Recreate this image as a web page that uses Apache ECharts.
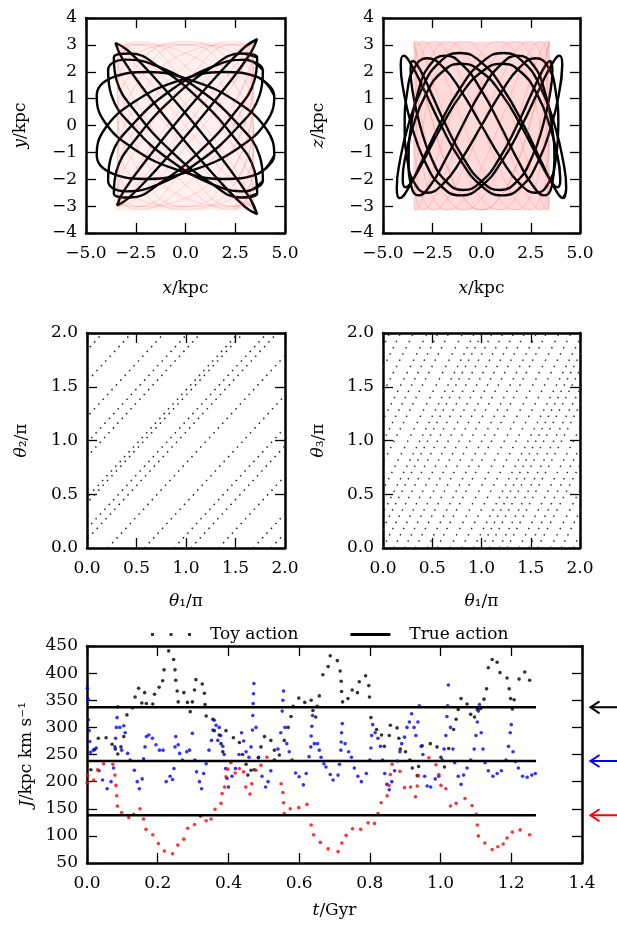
<!DOCTYPE html>
<html><head><meta charset="utf-8">
<script src="https://cdn.jsdelivr.net/npm/echarts@6/dist/echarts.min.js"></script>
<style>html,body{margin:0;padding:0;background:#fff}#c{width:617px;height:928px}</style>
</head><body><div id="c"></div><script>
// ---------- Panel 1 (x-y) orbit loops, kpc ----------
const loopE1 = [[3.6,3.22],[3.01,2.94],[1.64,1.9],[-0.15,0.39],[-1.88,-1.2],[-3.09,-2.42],[-3.44,-2.97],[-2.85,-2.69],[-1.48,-1.65],[0.31,-0.14],[2.04,1.45],[3.25,2.67]];
const loopE2 = [[3.6,-3.3],[3.26,-2.73],[2.05,-1.45],[0.31,0.18],[-1.51,1.74],[-2.91,2.8],[-3.52,3.07],[-3.18,2.5],[-1.97,1.22],[-0.23,-0.41],[1.59,-1.97],[2.99,-3.03]];
const loopE3 = [[3.89,2.06],[3.01,2.45],[1.33,2.18],[-0.7,1.33],[-2.55,0.12],[-3.72,-1.12],[-3.89,-2.06],[-3.01,-2.45],[-1.33,-2.18],[0.7,-1.33],[2.55,-0.12],[3.72,1.12]];
const loopE4 = [[3.89,-2.06],[3.01,-2.45],[1.33,-2.18],[-0.7,-1.33],[-2.55,-0.12],[-3.72,1.12],[-3.89,2.06],[-3.01,2.45],[-1.33,2.18],[0.7,1.33],[2.55,0.12],[3.72,-1.12]];
const loopE5 = [[4.46,1.11],[3.66,1.79],[1.88,1.99],[-0.41,1.65],[-2.59,0.87],[-4.07,-0.14],[-4.46,-1.11],[-3.66,-1.79],[-1.88,-1.99],[0.41,-1.65],[2.59,-0.87],[4.07,0.14]];
const loopE6 = [[4.46,-1.11],[3.66,-1.79],[1.88,-1.99],[-0.41,-1.65],[-2.59,-0.87],[-4.07,0.14],[-4.46,1.11],[-3.66,1.79],[-1.88,1.99],[0.41,1.65],[2.59,0.87],[4.07,-0.14]];
const loopE7 = [[3.6,2.53],[2.78,2.68],[1.21,2.11],[-0.69,0.98],[-2.4,-0.41],[-3.47,-1.7],[-3.6,-2.53],[-2.78,-2.68],[-1.21,-2.11],[0.69,-0.98],[2.4,0.41],[3.47,1.7]];
const loopE8 = [[3.6,-2.53],[2.78,-2.68],[1.21,-2.11],[-0.69,-0.98],[-2.4,0.41],[-3.47,1.7],[-3.6,2.53],[-2.78,2.68],[-1.21,2.11],[0.69,0.98],[2.4,-0.41],[3.47,-1.7]];
// toy (pink) orbit, panel 1
const pinkX1 = [3.43,2.43,0,-2.43,-3.43,-2.43,0,2.43];
const pinkY1 = [
 [3.01,1.56,-0.81,-2.70,-3.01,-1.56,0.81,2.70],
 [2.70,0.81,-1.56,-3.01,-2.70,-0.81,1.56,3.01],
 [2.21,0,-2.21,-3.12,-2.21,0,2.21,3.12],
 [1.56,-0.81,-2.70,-3.01,-1.56,0.81,2.70,3.01],
 [0.81,-1.56,-3.01,-2.70,-0.81,1.56,3.01,2.70],
 [0,-2.21,-3.12,-2.21,0,2.21,3.12,2.21],
 [-0.81,-2.70,-3.01,-1.56,0.81,2.70,3.01,1.56],
 [-1.56,-3.01,-2.70,-0.81,1.56,3.01,2.70,0.81],
 [-2.21,-3.12,-2.21,0,2.21,3.12,2.21,0],
 [-2.70,-3.01,-1.56,0.81,2.70,3.01,1.56,-0.81],
 [-3.01,-2.70,-0.81,1.56,3.01,2.70,0.81,-1.56]
];
const pinkBox1 = [[-3.43,-3.15],[3.45,3.1]];

// ---------- Panel 2 (x-z) orbit curves ----------
const curveK1x = [4.1,3.96,3.55,2.9,2.05,1.06,0,-1.06,-2.05,-2.9,-3.55,-3.96,-4.1,-3.96,-3.55,-2.9,-2.05,-1.06,0,1.06,2.05,2.9,3.55,3.96];
const curveK1z = [2.25,1.3,0,-1.3,-2.25,-2.6,-2.25,-1.3,0,1.3,2.25,2.6,2.25,1.3,0,-1.3,-2.25,-2.6,-2.25,-1.3,0,1.3,2.25,2.6];
const curveK2x = [3.9,3.77,3.38,2.76,1.95,1.01,0,-1.01,-1.95,-2.76,-3.38,-3.77,-3.9,-3.77,-3.38,-2.76,-1.95,-1.01,0,1.01,1.95,2.76,3.38,3.77];
const curveK2z = [0,-1.25,-2.17,-2.5,-2.17,-1.25,0,1.25,2.17,2.5,2.17,1.25,0,-1.25,-2.17,-2.5,-2.17,-1.25,0,1.25,2.17,2.5,2.17,1.25];
const curveK3x = [4.3,4.15,3.72,3.04,2.15,1.11,0,-1.11,-2.15,-3.04,-3.72,-4.15,-4.3,-4.15,-3.72,-3.04,-2.15,-1.11,0,1.11,2.15,3.04,3.72,4.15];
const curveK3z = [-2.34,-2.7,-2.34,-1.35,0,1.35,2.34,2.7,2.34,1.35,0,-1.35,-2.34,-2.7,-2.34,-1.35,0,1.35,2.34,2.7,2.34,1.35,0,-1.35];
const curveK4x = [3.6,3.48,3.12,2.55,1.8,0.93,0,-0.93,-1.8,-2.55,-3.12,-3.48,-3.6,-3.48,-3.12,-2.55,-1.8,-0.93,0,0.93,1.8,2.55,3.12,3.48];
const curveK4z = [2.08,2.4,2.08,1.2,0,-1.2,-2.08,-2.4,-2.08,-1.2,0,1.2,2.08,2.4,2.08,1.2,0,-1.2,-2.08,-2.4,-2.08,-1.2,0,1.2];
const curveK5x = [4,3.86,3.46,2.83,2,1.04,0,-1.04,-2,-2.83,-3.46,-3.86,-4,-3.86,-3.46,-2.83,-2,-1.04,0,1.04,2,2.83,3.46,3.86];
const curveK5z = [-1.99,-1.15,0,1.15,1.99,2.3,1.99,1.15,0,-1.15,-1.99,-2.3,-1.99,-1.15,0,1.15,1.99,2.3,1.99,1.15,0,-1.15,-1.99,-2.3];
const curveK6x = [3.7,3.57,3.2,2.62,1.85,0.96,0,-0.96,-1.85,-2.62,-3.2,-3.57,-3.7,-3.57,-3.2,-2.62,-1.85,-0.96,0,0.96,1.85,2.62,3.2,3.57];
const curveK6z = [-1.3,-2.25,-2.6,-2.25,-1.3,0,1.3,2.25,2.6,2.25,1.3,0,-1.3,-2.25,-2.6,-2.25,-1.3,0,1.3,2.25,2.6,2.25,1.3,0];
// toy (pink) orbit, panel 2
const pinkX2 = [3.44,3.32,2.98,2.43,1.72,0.89,0,-0.89,-1.72,-2.43,-2.98,-3.32,-3.44,-3.32,-2.98,-2.43,-1.72,-0.89,0,0.89,1.72,2.43,2.98,3.32];
const pinkZ2 = [
 [3.13,2.71,1.57,0,-1.57,-2.71,-3.13,-2.71,-1.57,0,1.57,2.71,3.13,2.71,1.57,0,-1.57,-2.71,-3.13,-2.71,-1.57,0,1.57,2.71],
 [2.71,1.57,0,-1.57,-2.71,-3.13,-2.71,-1.57,0,1.57,2.71,3.13,2.71,1.57,0,-1.57,-2.71,-3.13,-2.71,-1.57,0,1.57,2.71,3.13],
 [1.57,0,-1.57,-2.71,-3.13,-2.71,-1.57,0,1.57,2.71,3.13,2.71,1.57,0,-1.57,-2.71,-3.13,-2.71,-1.57,0,1.57,2.71,3.13,2.71],
 [0,-1.57,-2.71,-3.13,-2.71,-1.57,0,1.57,2.71,3.13,2.71,1.57,0,-1.57,-2.71,-3.13,-2.71,-1.57,0,1.57,2.71,3.13,2.71,1.57],
 [-1.57,-2.71,-3.13,-2.71,-1.57,0,1.57,2.71,3.13,2.71,1.57,0,-1.57,-2.71,-3.13,-2.71,-1.57,0,1.57,2.71,3.13,2.71,1.57,0],
 [-2.71,-3.13,-2.71,-1.57,0,1.57,2.71,3.13,2.71,1.57,0,-1.57,-2.71,-3.13,-2.71,-1.57,0,1.57,2.71,3.13,2.71,1.57,0,-1.57]
];
const pinkBox2 = [[-3.43,-3.15],[3.45,3.13]];

// ---------- Panel 3 (theta1, theta2): dotted tracks, endpoints in units of pi ----------
const tracks12 = [
 [[-1.84,0],[0.16,2]],[[-1.55,0],[0.45,2]],[[-1.22,0],[0.78,2]],[[-0.98,0],[1.02,2]],
 [[-0.85,0],[1.15,2]],[[-0.47,0],[1.53,2]],[[-0.42,0],[1.58,2]],[[-0.18,0],[1.82,2]],
 [[-0.08,0],[1.92,2]],[[0.21,0],[2.21,2]],[[0.58,0],[2.58,2]],[[0.88,0],[2.88,2]],
 [[1.05,0],[3.05,2]],[[1.33,0],[3.33,2]],[[1.68,0],[3.68,2]],[[1.86,0],[3.86,2]]
];
// ---------- Panel 4 (theta1, theta3) ----------
const tracks13 = [
 [[-1.04,0],[0.07,2]],[[-0.93,0],[0.18,2]],[[-0.80,0],[0.31,2]],[[-0.66,0],[0.45,2]],
 [[-0.55,0],[0.56,2]],[[-0.44,0],[0.67,2]],[[-0.30,0],[0.81,2]],[[-0.18,0],[0.93,2]],
 [[-0.10,0],[1.01,2]],[[0.0,0],[1.11,2]],[[0.11,0],[1.22,2]],[[0.22,0],[1.33,2]],
 [[0.33,0],[1.44,2]],[[0.45,0],[1.56,2]],[[0.55,0],[1.66,2]],[[0.68,0],[1.79,2]],
 [[0.80,0],[1.91,2]],[[0.92,0],[2.03,2]],[[1.00,0],[2.11,2]],[[1.08,0],[2.19,2]],
 [[1.18,0],[2.29,2]],[[1.26,0],[2.37,2]],[[1.38,0],[2.49,2]],[[1.48,0],[2.59,2]],
 [[1.57,0],[2.68,2]],[[1.70,0],[2.81,2]],[[1.81,0],[2.92,2]],[[1.93,0],[3.04,2]]
];

// ---------- Panel 5: actions vs time ----------
const toyBlack = [[0.011,222],[0.022,259],[0.032,280],[0.054,281],[0.071,269],[0.08,260],[0.087,251],[0.096,264],[0.104,283],[0.113,323],[0.129,336],[0.136,356],[0.146,372],[0.155,345],[0.163,364],[0.168,344],[0.186,343],[0.191,361],[0.204,374],[0.214,386],[0.218,406],[0.231,441],[0.245,425],[0.249,406],[0.251,387],[0.255,367],[0.258,347],[0.274,364],[0.284,346],[0.292,329],[0.298,347],[0.304,369],[0.308,388],[0.326,380],[0.332,363],[0.334,342],[0.337,321],[0.356,315],[0.36,294],[0.374,286],[0.379,270],[0.384,255],[0.393,294],[0.414,281],[0.431,272],[0.44,250],[0.45,232],[0.455,212],[0.464,221],[0.473,222],[0.485,244],[0.492,264],[0.502,283],[0.52,276],[0.53,258],[0.544,249],[0.558,276],[0.569,300],[0.577,320],[0.583,339],[0.599,354],[0.616,346],[0.634,350],[0.639,331],[0.647,319],[0.651,339],[0.657,358],[0.667,397],[0.682,412],[0.688,432],[0.708,423],[0.716,404],[0.719,385],[0.72,366],[0.723,347],[0.738,353],[0.75,369],[0.765,364],[0.77,384],[0.788,395],[0.797,377],[0.799,356],[0.803,318],[0.819,296],[0.833,286],[0.841,265],[0.855,285],[0.858,304],[0.877,299],[0.882,280],[0.886,260],[0.901,255],[0.913,240],[0.92,225],[0.934,211],[0.938,228],[0.948,266],[0.971,270],[0.99,264],[1.001,245],[1.011,227],[1.023,261],[1.037,296],[1.044,315],[1.05,333],[1.058,353],[1.075,343],[1.085,324],[1.096,319],[1.104,333],[1.113,335],[1.123,352],[1.13,371],[1.135,410],[1.146,425],[1.16,420],[1.168,401],[1.188,391],[1.194,371],[1.198,353],[1.203,334],[1.208,351],[1.222,389],[1.238,402],[1.252,387]];
const toyBlue = [[0.001,372],[0.003,352],[0.004,314],[0.006,294],[0.008,274],[0.010,254],[0.018,258],[0.026,262],[0.034,220],[0.044,203],[0.057,187],[0.068,200],[0.075,225],[0.079,264],[0.081,280],[0.083,300],[0.085,318],[0.087,338],[0.093,300],[0.098,258],[0.104,303],[0.108,290],[0.115,252],[0.122,240],[0.134,221],[0.142,200],[0.148,187],[0.156,205],[0.160,242],[0.164,264],[0.168,283],[0.175,286],[0.185,280],[0.195,268],[0.205,258],[0.215,258],[0.224,200],[0.235,210],[0.242,204],[0.246,224],[0.249,264],[0.251,283],[0.258,268],[0.262,252],[0.27,240],[0.282,255],[0.29,258],[0.298,289],[0.305,240],[0.31,218],[0.318,200],[0.324,187],[0.33,215],[0.337,233],[0.345,258],[0.352,276],[0.356,295],[0.36,313],[0.365,304],[0.370,276],[0.374,300],[0.378,285],[0.384,265],[0.388,250],[0.392,224],[0.396,206],[0.400,190],[0.41,210],[0.42,224],[0.43,250],[0.437,290],[0.443,275],[0.45,255],[0.458,245],[0.464,264],[0.468,295],[0.469,322],[0.470,344],[0.471,362],[0.472,381],[0.478,300],[0.485,245],[0.495,210],[0.505,190],[0.512,200],[0.52,220],[0.53,240],[0.54,260],[0.548,290],[0.552,330],[0.554,350],[0.556,367],[0.56,300],[0.565,270],[0.572,255],[0.58,240],[0.59,216],[0.60,209],[0.612,194],[0.62,215],[0.628,246],[0.633,264],[0.634,284],[0.636,302],[0.638,322],[0.643,270],[0.652,270],[0.657,258],[0.662,245],[0.67,233],[0.676,227],[0.688,213],[0.696,203],[0.71,212],[0.714,232],[0.718,258],[0.719,273],[0.72,290],[0.722,307],[0.73,270],[0.74,255],[0.748,245],[0.756,225],[0.766,210],[0.776,200],[0.79,215],[0.8,240],[0.803,262],[0.805,285],[0.808,305],[0.815,290],[0.823,280],[0.83,265],[0.836,240],[0.842,215],[0.848,195],[0.855,185],[0.862,200],[0.87,220],[0.878,238],[0.885,255],[0.89,270],[0.898,282],[0.905,300],[0.912,310],[0.918,325],[0.925,300],[0.93,285],[0.936,310],[0.94,340],[0.945,265],[0.95,250],[0.955,210],[0.962,192],[0.972,190],[0.985,205],[0.995,210],[1.005,240],[1.01,260],[1.015,285],[1.018,320],[1.02,340],[1.022,378],[1.028,300],[1.035,260],[1.04,235],[1.05,210],[1.058,195],[1.065,212],[1.075,225],[1.085,240],[1.095,260],[1.1,285],[1.104,310],[1.107,330],[1.11,342],[1.115,290],[1.12,260],[1.126,235],[1.135,220],[1.148,210],[1.16,215],[1.172,220],[1.185,240],[1.192,265],[1.197,290],[1.2,305],[1.205,255],[1.212,237],[1.22,225],[1.232,210],[1.245,208],[1.258,212],[1.268,215]];
const toyRed = [[0.0,198],[0.002,212],[0.019,203],[0.03,222],[0.047,233],[0.073,232],[0.079,212],[0.082,193],[0.084,174],[0.086,155],[0.098,143],[0.118,134],[0.132,140],[0.15,150],[0.16,131],[0.167,112],[0.186,102],[0.202,86],[0.219,72],[0.242,67],[0.257,83],[0.274,94],[0.285,114],[0.304,121],[0.321,136],[0.337,128],[0.351,131],[0.362,149],[0.379,160],[0.382,178],[0.389,190],[0.393,209],[0.398,223],[0.407,235],[0.419,216],[0.431,224],[0.443,218],[0.449,190],[0.461,177],[0.466,196],[0.478,221],[0.492,230],[0.509,245],[0.53,240],[0.549,196],[0.554,180],[0.556,161],[0.558,141],[0.575,150],[0.599,152],[0.622,158],[0.634,120],[0.641,102],[0.66,88],[0.682,76],[0.71,71],[0.721,87],[0.733,101],[0.751,113],[0.774,112],[0.795,124],[0.813,123],[0.823,141],[0.832,161],[0.849,174],[0.854,193],[0.858,213],[0.863,232],[0.885,219],[0.898,189],[0.915,190],[0.929,172],[0.934,192],[0.937,211],[0.967,244],[0.987,231],[0.995,213],[1.001,193],[1.015,187],[1.028,155],[1.044,160],[1.069,169],[1.089,156],[1.101,140],[1.104,120],[1.107,100],[1.125,87],[1.146,75],[1.162,80],[1.177,85],[1.188,96],[1.203,107],[1.225,111],[1.252,102]];
const trueActions = [337, 238, 138];
const trueColors = ['#000000', '#0000ff', '#ff0000'];
const tRange = [0, 1.27];
const arrowSpan = [1.424, 1.53];   // arrow tip and tail, in t units (outside the axes, right margin)

// ---------- styling & construction ----------
const FONT = 'DejaVu Serif', FS = 17;
const fmtDec = v => (v < -1e-9 ? '\u2212' : '') + Math.abs(v).toFixed(1);
const fmtInt = v => (v < -1e-9 ? '\u2212' : '') + Math.abs(Math.round(v));

const grids = [
  {left:86, top:18, width:199, height:215},
  {left:383, top:18, width:197, height:215},
  {left:87, top:333, width:198, height:215},
  {left:383, top:333, width:197, height:215},
  {left:87, top:646, width:495, height:217}
].map(g => Object.assign(g, {containLabel:false, outerBoundsMode:'none'}));

const specs = [
  {x:[-5,5,2.5,fmtDec], y:[-4,4,1,fmtInt], xn:'{i|x}/kpc', yn:'{i|y}/kpc', xg:47, yg:57},
  {x:[-5,5,2.5,fmtDec], y:[-4,4,1,fmtInt], xn:'{i|x}/kpc', yn:'{i|z}/kpc', xg:47, yg:56},
  {x:[0,2,0.5,fmtDec], y:[0,2,0.5,fmtDec], xn:'{i|θ}\u2081/π', yn:'{i|θ}\u2082/π', xg:45, yg:57},
  {x:[0,2,0.5,fmtDec], y:[0,2,0.5,fmtDec], xn:'{i|θ}\u2081/π', yn:'{i|θ}\u2083/π', xg:45, yg:56},
  {x:[0,1.4,0.2,fmtDec], y:[50,450,50,fmtInt], xn:'{i|t}/Gyr', yn:'{i|J}/kpc km s\u207B\u00B9', xg:39, yg:50}
];
const nameStyle = {fontFamily:FONT, fontSize:FS, color:'#000', rich:{i:{fontStyle:'italic', fontFamily:FONT, fontSize:FS, color:'#000'}}};
const spine = {show:true, onZero:false, lineStyle:{color:'#000', width:2.5}};
const tick = {show:true, inside:true, length:10, lineStyle:{color:'#000', width:1.3}};
const xAxes = [], yAxes = [];
specs.forEach((s, gi) => {
  const [xmin,xmax,xint,xf] = s.x, [ymin,ymax,yint,yf] = s.y;
  xAxes.push({type:'value', gridIndex:gi, position:'bottom', min:xmin, max:xmax, interval:xint,
    axisLine:spine, axisTick:tick, splitLine:{show:false},
    axisLabel:{formatter:xf, fontFamily:FONT, fontSize:FS, color:'#000', margin:12, showMinLabel:true, showMaxLabel:true, hideOverlap:false},
    name:s.xn, nameLocation:'middle', nameGap:s.xg, nameTextStyle:nameStyle});
  xAxes.push({type:'value', gridIndex:gi, position:'top', min:xmin, max:xmax, interval:xint,
    axisLine:spine, axisTick:tick, splitLine:{show:false}, axisLabel:{show:false}});
  yAxes.push({type:'value', gridIndex:gi, position:'left', min:ymin, max:ymax, interval:yint,
    axisLine:spine, axisTick:tick, splitLine:{show:false},
    axisLabel:{formatter:yf, fontFamily:FONT, fontSize:FS, color:'#000', margin:9, showMinLabel:true, showMaxLabel:true, hideOverlap:false},
    name:s.yn, nameLocation:'middle', nameGap:s.yg, nameRotate:90, nameTextStyle:nameStyle});
  yAxes.push({type:'value', gridIndex:gi, position:'right', min:ymin, max:ymax, interval:yint,
    axisLine:spine, axisTick:tick, splitLine:{show:false}, axisLabel:{show:false}});
});

const series = [];
const ax = gi => ({xAxisIndex:2*gi, yAxisIndex:2*gi});
const closeLoop = pts => pts.concat([pts[0], pts[1]]);
const zip = (xs, ys) => xs.map((x, i) => [x, ys[i]]);
const blackStyle = {color:'#000', width:2.4};
const pinkStyle = {color:'rgb(255,70,70)', width:0.8, opacity:0.25};
function curve(gi, pts, style, z, smooth) {
  series.push(Object.assign({type:'line', data:pts, smooth:smooth, showSymbol:false, symbol:'none',
    lineStyle:style, z:z, silent:true}, ax(gi)));
}
// panel 1
[loopE1,loopE2,loopE3,loopE4,loopE5,loopE6,loopE7,loopE8].forEach(l => curve(0, closeLoop(l), blackStyle, 2, 0.45));
pinkY1.forEach(ys => curve(0, closeLoop(zip(pinkX1, ys)), pinkStyle, 3, 0.5));
curve(0, [pinkBox1[0], pinkBox1[1]], pinkStyle, 3, false);
curve(0, [[pinkBox1[0][0], pinkBox1[1][1]], [pinkBox1[1][0], pinkBox1[0][1]]], pinkStyle, 3, false);
series.push(Object.assign({type:'line', data:[], silent:true, z:3,
  markArea:{silent:true, itemStyle:{color:'rgba(255,70,70,0.08)'}, data:[[{coord:pinkBox1[0]},{coord:pinkBox1[1]}]]}}, ax(0)));
// panel 2
[[curveK1x,curveK1z],[curveK2x,curveK2z],[curveK3x,curveK3z],[curveK4x,curveK4z],[curveK5x,curveK5z],[curveK6x,curveK6z]]
  .forEach(([xs,zs]) => curve(1, closeLoop(zip(xs, zs)), blackStyle, 2, 0.5));
pinkZ2.forEach(zs => curve(1, closeLoop(zip(pinkX2, zs)), pinkStyle, 3, 0.5));
series.push(Object.assign({type:'line', data:[], silent:true, z:3,
  markArea:{silent:true, itemStyle:{color:'rgba(255,70,70,0.2)'}, data:[[{coord:pinkBox2[0]},{coord:pinkBox2[1]}]]}}, ax(1)));
// panels 3 & 4
const dot12 = {color:'#222', width:1.5, type:[1.5,5], cap:'butt'};
const dot13 = {color:'#333', width:1.5, type:[1.5,5.5], cap:'butt'};
tracks12.forEach(s => curve(2, s, dot12, 2, false));
tracks13.forEach(s => curve(3, s, dot13, 2, false));
// panel 5
const dotSeries = (name, data, color) => series.push(Object.assign({type:'scatter', name, data,
  symbol:'circle', symbolSize:3.6, itemStyle:{color}, z:2, silent:true}, ax(4)));
dotSeries('Toy action', toyBlack, '#000');
dotSeries('toyBlue', toyBlue, '#0000ff');
dotSeries('toyRed', toyRed, '#ff0000');
trueActions.forEach(J => {
  series.push(Object.assign({type:'line', name:'True action', data:[[tRange[0],J],[tRange[1],J]],
    showSymbol:false, symbol:'none', lineStyle:{color:'#000', width:2.5}, itemStyle:{color:'#000'}, z:4, silent:true}, ax(4)));
});
// arrows marking the true action levels, right margin
series.push(Object.assign({type:'custom', silent:true, clip:false, z:5,
  data: trueActions.map((J, k) => [arrowSpan[0], J, k]),
  encode:{x:0, y:1},
  renderItem: (params, api) => {
    const J = api.value(1), k = api.value(2);
    const p0 = api.coord([arrowSpan[0], J]), p1 = api.coord([arrowSpan[1], J]);
    const st = {stroke:trueColors[k], lineWidth:2, fill:null};
    return {type:'group', children:[
      {type:'line', shape:{x1:p0[0], y1:p0[1], x2:p1[0], y2:p1[1]}, style:st},
      {type:'polyline', shape:{points:[[p0[0]+9, p0[1]-6],[p0[0], p0[1]],[p0[0]+9, p0[1]+6]]}, style:st}
    ]};
  }}, ax(4)));

const chart = echarts.init(document.getElementById('c'), null, {renderer:'canvas'});
chart.setOption({
  animation:false,
  backgroundColor:'#fff',
  textStyle:{fontFamily:FONT},
  grid:grids, xAxis:xAxes, yAxis:yAxes, series,
  legend:{left:146, top:621, itemWidth:40, itemHeight:3, itemGap:52, selectedMode:false,
    textStyle:{fontFamily:FONT, fontSize:FS, color:'#000', padding:[0,0,0,14]},
    data:[{name:'Toy action', icon:'path://M0,0h3v3h-3z M18.5,0h3v3h-3z M37,0h3v3h-3z'},
          {name:'True action', icon:'rect'}]}
});
</script></body></html>
